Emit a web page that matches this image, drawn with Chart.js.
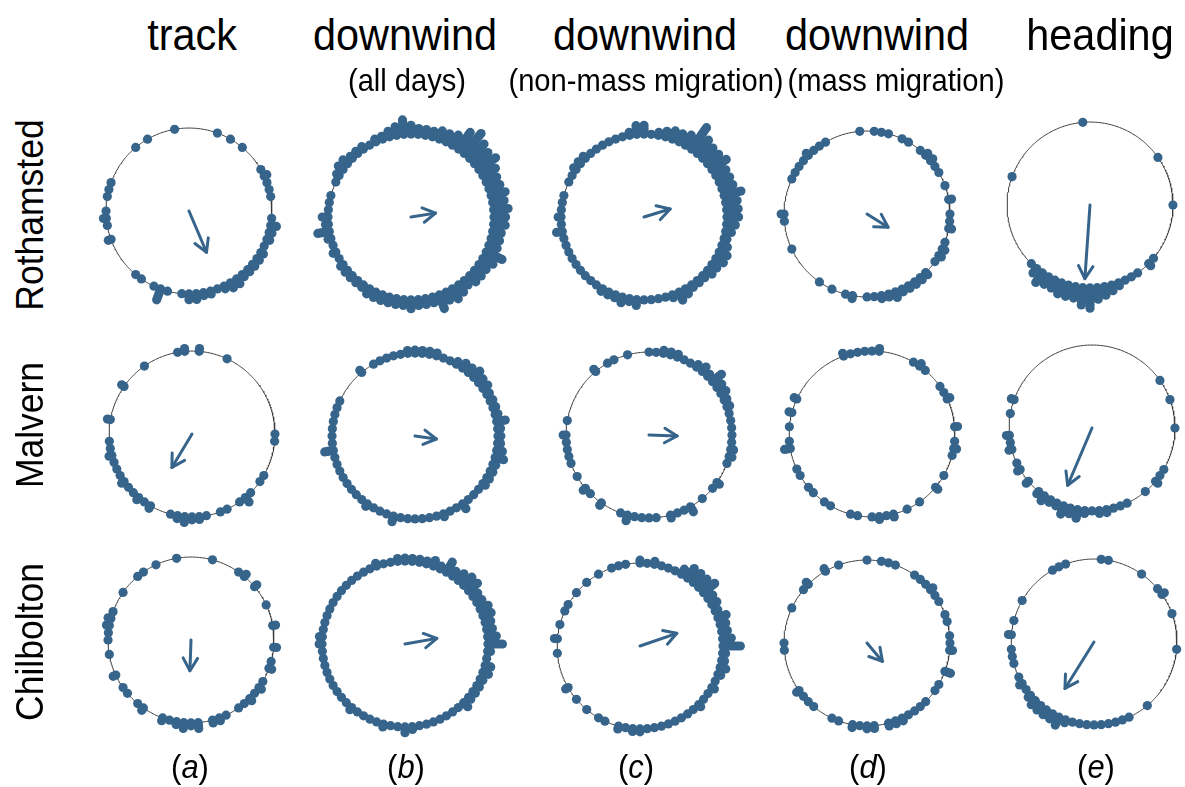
<!DOCTYPE html>
<html>
<head>
<meta charset="utf-8">
<script src="https://cdn.jsdelivr.net/npm/chart.js@4.4.1/dist/chart.umd.min.js"></script>
<style>
  html, body { margin: 0; padding: 0; background: #fff; }
  #fig { position: relative; width: 1185px; height: 787px; overflow: hidden;
         font-family: "Liberation Sans", Arial, sans-serif; color: #000; }
  .lbl { position: absolute; white-space: nowrap; line-height: 1; }
  .panel { position: absolute; }
  .panel canvas { display: block; }
</style>
</head>
<body>
<div id="fig"></div>
<script>
// Number of observations in each 5-degree bin; bin k is centred on 5*k degrees,
// measured clockwise from north. Rows of 12 bins = 60 degrees.

// Rothamsted
const trackRothamsted = [
  0,0,0,0,1,0,1,0,1,0,0,0,
  1,2,1,1,1,0,0,1,3,2,2,1,
  2,2,2,2,2,3,3,2,1,2,2,3,
  3,1,0,1,5,1,0,1,1,0,0,0,
  0,0,2,0,1,2,1,0,1,1,1,0,
  0,0,0,0,1,0,1,0,0,0,1,0];
const downwindAllRothamsted = [
  4,3,3,3,4,4,5,8,10,8,7,8,
  6,5,5,6,5,6,5,5,4,4,4,7,
  5,4,4,4,3,4,5,4,6,3,3,3,
  4,3,3,3,3,3,3,2,2,2,2,2,
  1,2,1,2,5,2,3,1,1,1,0,1,
  2,3,3,2,2,2,1,2,2,3,4,6];
const downwindNonMassRothamsted = [
  4,1,2,3,4,4,5,10,7,6,6,7,
  5,5,5,7,5,5,5,4,3,2,3,4,
  4,3,3,2,2,2,3,4,2,1,1,1,
  1,3,2,3,2,2,2,1,1,1,1,1,
  1,1,1,1,3,1,2,1,1,1,0,1,
  1,2,2,2,1,1,1,1,1,1,2,4];
const downwindMassRothamsted = [
  0,1,1,1,0,1,1,0,1,2,2,1,
  1,0,1,0,2,0,1,1,2,0,1,2,
  2,1,0,2,2,2,2,2,3,2,2,1,
  1,0,2,1,0,1,0,1,0,0,0,0,
  0,1,0,0,0,1,2,0,0,0,0,1,
  1,1,1,2,1,1,1,0,0,0,0,1];
const headingRothamsted = [
  0,0,0,0,0,0,0,0,0,0,0,1,
  0,0,0,0,0,0,1,0,0,0,0,0,
  0,0,1,2,0,1,1,1,2,3,4,5,
  8,7,5,5,5,4,4,5,3,1,0,0,
  0,0,0,0,0,0,0,0,0,0,1,0,
  0,0,0,0,0,0,0,0,0,0,0,1];

// Malvern
const trackMalvern = [
  0,2,0,0,0,1,0,0,0,0,0,0,
  0,0,0,0,0,0,1,1,0,0,0,0,
  1,1,0,1,3,1,0,1,1,0,1,2,
  2,3,2,1,0,0,2,1,2,1,1,2,
  1,1,1,2,1,1,0,0,2,0,0,0,
  0,2,0,0,0,1,0,0,0,0,1,2];
const downwindAllMalvern = [
  2,2,2,2,1,1,2,3,3,4,3,3,
  2,2,2,2,4,2,2,2,3,4,2,2,
  2,2,1,1,1,3,1,1,2,1,1,1,
  1,1,1,3,1,1,1,2,1,1,1,1,
  1,1,1,1,4,1,1,1,1,1,1,1,
  0,0,0,0,2,0,1,1,1,1,1,2];
const downwindNonMassMalvern = [
  1,1,2,2,2,1,1,2,3,2,5,3,
  3,2,2,1,1,1,1,1,2,2,1,0,
  0,2,1,0,1,0,3,1,1,2,0,1,
  1,1,1,3,1,0,0,2,0,1,2,0,
  1,0,1,1,1,1,2,0,1,0,0,0,
  0,0,0,0,2,0,1,1,0,1,0,0];
const downwindMassMalvern = [
  1,2,0,0,0,0,1,2,1,0,0,1,
  1,2,0,0,0,2,0,1,2,1,0,0,
  1,0,2,0,0,1,0,1,0,2,1,2,
  1,0,1,1,0,0,1,1,0,1,1,0,
  1,1,0,0,3,1,0,1,0,2,0,2,
  0,0,0,0,0,0,0,0,2,1,1,1];
const headingMalvern = [
  0,0,0,0,0,0,0,0,0,0,0,1,
  0,0,1,0,0,0,1,0,0,0,0,0,
  1,1,2,0,1,0,0,1,1,1,2,2,
  1,2,4,3,4,2,2,3,2,0,2,0,
  2,1,0,2,1,2,0,0,1,0,2,0,
  0,0,0,0,0,0,0,0,0,0,0,0];

// Chilbolton
const trackChilbolton = [
  0,0,0,1,0,0,0,1,2,0,2,0,
  0,1,0,0,2,0,0,2,0,1,2,0,
  1,2,1,2,1,1,0,1,2,2,0,3,
  2,3,2,1,2,0,0,2,1,0,1,1,
  0,2,0,0,1,0,1,1,2,2,1,0,
  0,1,0,0,1,1,0,1,0,0,1,0];
const downwindAllChilbolton = [
  2,2,2,2,3,2,5,3,4,5,5,3,
  3,4,4,3,3,4,6,2,1,3,3,2,
  2,2,2,3,1,1,1,1,1,1,1,2,
  3,1,1,2,1,1,1,1,2,1,1,1,
  1,1,1,1,1,1,2,2,1,1,1,1,
  1,1,1,1,1,1,1,1,2,1,1,2];
const downwindNonMassChilbolton = [
  2,1,2,1,1,1,3,5,5,5,6,3,
  3,2,4,3,3,4,7,2,2,3,2,1,
  2,1,1,2,1,1,1,1,1,1,1,1,
  2,2,1,2,0,1,1,0,1,0,1,0,
  2,0,0,0,0,1,0,2,0,1,0,1,
  1,0,1,0,1,0,1,0,1,1,1,0];
const downwindMassChilbolton = [
  1,0,1,1,1,0,0,1,1,1,2,1,
  1,0,1,1,0,1,1,2,0,0,3,0,
  1,1,0,1,1,1,1,2,2,2,0,2,
  2,1,2,0,1,1,0,0,1,1,1,2,
  0,0,0,0,0,1,1,0,0,0,0,1,
  0,0,1,2,0,0,2,0,1,0,0,0];
const headingChilbolton = [
  0,1,1,0,0,0,0,1,0,0,1,2,
  0,0,1,0,0,0,0,1,0,0,0,0,
  0,0,0,0,1,0,0,1,1,1,1,1,
  1,1,1,1,2,4,3,3,3,3,2,1,
  2,1,0,1,1,1,0,2,0,1,0,0,
  1,0,0,0,0,0,1,1,1,0,0,0];

// Mean resultant vectors: direction (degrees from north) and length (0..1)
const meanDirection = [
  [157, 81, 73, 122, 184],
  [211, 98, 92, null, 203],
  [182, 80, 71, 140, 212]];
const meanLength = [
  [0.54, 0.30, 0.33, 0.30, 0.89],
  [0.47, 0.26, 0.34, 0.00, 0.75],
  [0.37, 0.39, 0.47, 0.29, 0.66]];

const columnTitles = ['track', 'downwind', 'downwind', 'downwind', 'heading'];
const columnSubtitles = ['', '(all days)', '(non-mass migration)', '(mass migration)', ''];
const siteNames = ['Rothamsted', 'Malvern', 'Chilbolton'];
const panelLetters = ['a', 'b', 'c', 'd', 'e'];

const binCounts = [
  [trackRothamsted, downwindAllRothamsted, downwindNonMassRothamsted, downwindMassRothamsted, headingRothamsted],
  [trackMalvern, downwindAllMalvern, downwindNonMassMalvern, downwindMassMalvern, headingMalvern],
  [trackChilbolton, downwindAllChilbolton, downwindNonMassChilbolton, downwindMassChilbolton, headingChilbolton]];

// ---- layout ----
const panelCentres = [
  [[189, 211], [411, 217], [644, 217], [867, 214], [1090, 205]],
  [[192, 434], [415, 436], [649, 435], [872, 434], [1092, 428]],
  [[191, 640], [405, 644], [640, 646], [867, 643], [1094, 642]]];
const titleX = [192, 405, 645, 877, 1100];
const subtitleX = [null, 407, 646, 896, null];
const siteY = [215, 425, 642];
const letterX = [190, 406, 636, 868, 1096];

const BLUE = '#36648B';
const RADIUS_PX = 86;            // circle radius in pixels
const SIZE = 260;                // canvas size per panel
const LIM = (SIZE / 2) / RADIUS_PX;
const BIN_DEG = 5;
const DOT_R = 4.6;
const STACK_STEP = 3 / RADIUS_PX; // radial spacing of stacked dots
const HEAD_LEN = 15 / RADIUS_PX;
const HEAD_ANGLE = 30;

const fig = document.getElementById('fig');

function polar(deg, r) {
  const t = deg * Math.PI / 180;
  return { x: r * Math.sin(t), y: r * Math.cos(t) };
}

function addLabel(html, x, y, size, opts = {}) {
  const d = document.createElement('div');
  d.className = 'lbl';
  d.innerHTML = html;
  d.style.left = x + 'px';
  d.style.top = y + 'px';
  d.style.fontSize = size + 'px';
  const sx = opts.scaleX || 1;
  d.style.transform = 'translate(-50%,-50%)' + (opts.rotate ? ' rotate(' + opts.rotate + 'deg)' : '') + ' scaleX(' + sx + ')';
  fig.appendChild(d);
}

function makePanel(counts, dir, len, cx, cy) {
  const wrap = document.createElement('div');
  wrap.className = 'panel';
  wrap.style.left = (cx - SIZE / 2) + 'px';
  wrap.style.top = (cy - SIZE / 2) + 'px';
  const cv = document.createElement('canvas');
  cv.width = SIZE; cv.height = SIZE;
  cv.style.width = SIZE + 'px'; cv.style.height = SIZE + 'px';
  wrap.appendChild(cv);
  fig.appendChild(wrap);

  const ring = [];
  for (let a = 0; a <= 360; a += 1) ring.push(polar(a, 1));

  const dots = [];
  counts.forEach((n, k) => {
    for (let j = 0; j < n; j++) dots.push(polar(k * BIN_DEG, 1 + j * STACK_STEP));
  });

  const datasets = [
    { data: ring, showLine: true, pointRadius: 0, borderColor: '#3c3c3c', borderWidth: 1,
      tension: 0, order: 4, clip: false },
    { data: dots, showLine: false, pointRadius: DOT_R, pointHoverRadius: DOT_R,
      pointBackgroundColor: BLUE, pointBorderWidth: 0, pointBorderColor: BLUE, order: 3, clip: false }
  ];

  if (dir !== null && len > 0) {
    const tip = polar(dir, len);
    const l = polar(dir + 180 - HEAD_ANGLE, HEAD_LEN);
    const r = polar(dir + 180 + HEAD_ANGLE, HEAD_LEN);
    datasets.push({ data: [{ x: 0, y: 0 }, tip], showLine: true, pointRadius: 0,
      borderColor: BLUE, borderWidth: 3, borderCapStyle: 'round', order: 2, clip: false });
    datasets.push({ data: [{ x: tip.x + l.x, y: tip.y + l.y }, tip, { x: tip.x + r.x, y: tip.y + r.y }],
      showLine: true, pointRadius: 0, borderColor: BLUE, borderWidth: 3,
      borderCapStyle: 'round', borderJoinStyle: 'round', order: 1, clip: false });
  }

  new Chart(cv, {
    type: 'scatter',
    data: { datasets },
    options: {
      responsive: false, animation: false, events: [],
      layout: { padding: 0 },
      plugins: { legend: { display: false }, tooltip: { enabled: false } },
      scales: {
        x: { type: 'linear', min: -LIM, max: LIM, display: false },
        y: { type: 'linear', min: -LIM, max: LIM, display: false }
      }
    }
  });
}

for (let r = 0; r < 3; r++) {
  for (let c = 0; c < 5; c++) {
    const [cx, cy] = panelCentres[r][c];
    makePanel(binCounts[r][c], meanDirection[r][c], meanLength[r][c], cx, cy);
  }
}

columnTitles.forEach((t, c) => addLabel(t, titleX[c], 34, 45, { scaleX: 0.92 }));
columnSubtitles.forEach((t, c) => { if (t) addLabel(t, subtitleX[c], 80, 32, { scaleX: 0.91 }); });
siteNames.forEach((s, r) => addLabel(s, 29, siteY[r], 39, { scaleX: 0.91, rotate: -90 }));
panelLetters.forEach((p, c) => addLabel('(<i>' + p + '</i>)', letterX[c], 766, 34, { scaleX: 0.91 }));
</script>
</body>
</html>
